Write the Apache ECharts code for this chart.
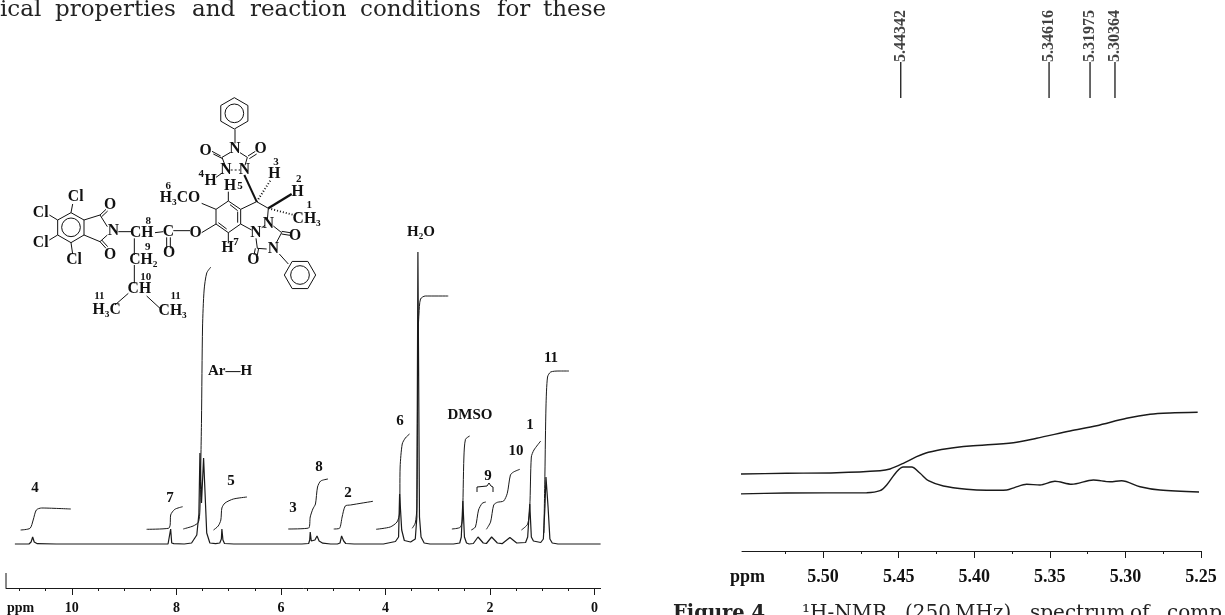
<!DOCTYPE html>
<html><head><meta charset="utf-8">
<style>html,body{margin:0;padding:0;background:#fff;overflow:hidden}#c{width:1225px;height:615px}</style>
<script src="https://cdn.jsdelivr.net/npm/echarts@6/dist/echarts.min.js"></script></head>
<body><div id="c"></div>
<script>
// ---------- left spectrum: ppm / intensity ----------
const leftSpectrum = [[11.09,0],[10.82,0],[10.78,2],[10.75,7],[10.72,2],[10.66,0.3],[10.3,0],[8.5,0],[8.16,0],[8.13,1],[8.11,15],[8.09,1],[8.05,0.4],[7.85,0],[7.71,1],[7.61,9],[7.57,30],[7.55,91],[7.52,41],[7.48,86],[7.42,11],[7.36,1],[7.25,0.4],[7.17,1],[7.14,5],[7.13,15],[7.11,4],[7.08,0.5],[6.9,0],[5.6,0],[5.47,0.5],[5.45,4],[5.44,12],[5.42,3],[5.39,1.5],[5.35,4],[5.31,8],[5.27,3],[5.2,0.8],[5.05,0],[4.92,0],[4.87,1],[4.84,8],[4.83,9],[4.80,3],[4.76,0.5],[4.6,0],[4.04,0],[3.81,2.5],[3.75,7],[3.73,50],[3.71,52],[3.69,14],[3.64,3.5],[3.52,2],[3.43,5],[3.40,27],[3.38,292],[3.35,27],[3.32,7],[3.26,1],[3.15,0],[2.7,0],[2.58,1],[2.55,7],[2.52,43],[2.49,7],[2.45,1],[2.40,0],[2.32,0.5],[2.23,7],[2.13,1],[2.07,0.5],[1.97,7],[1.86,1],[1.77,0.3],[1.62,6.5],[1.49,1],[1.32,1.5],[1.28,7],[1.24,40],[1.21,7],[1.17,3],[1.03,1.5],[0.98,5],[0.95,37],[0.93,67],[0.89,37],[0.855,5],[0.81,1],[0.7,0],[-0.115,0]];
const integral4 = [[10.98,14],[10.80,15.7],[10.74,24],[10.68,34],[10.58,36],[10.02,35]];
const integral7 = [[8.57,14.7],[8.15,15.7],[8.12,19],[8.11,29],[8.03,34.7],[7.88,37.3]];
const integralAr = [[7.87,15],[7.68,18],[7.58,21.7],[7.55,34],[7.53,91],[7.52,124],[7.50,217],[7.47,254],[7.42,271],[7.34,277]];
const integral5 = [[7.29,14],[7.20,18],[7.15,24],[7.13,36],[7.07,41],[6.91,45],[6.65,47]];
const integral38 = [[5.86,15],[5.47,16],[5.44,27],[5.39,35],[5.34,40],[5.30,57],[5.24,63],[5.10,65]];
const integral2 = [[4.99,15],[4.88,15.7],[4.83,27],[4.77,38],[4.67,39],[4.24,42.7]];
const integral6 = [[4.18,14.7],[3.91,17],[3.78,22],[3.73,31],[3.72,77],[3.68,100],[3.62,106],[3.54,110]];
const integralWater = [[3.49,15.7],[3.43,21],[3.40,37],[3.38,204],[3.36,230],[3.33,245],[3.24,248],[2.80,248]];
const integralDmso = [[2.73,15],[2.57,16.7],[2.53,24],[2.50,87],[2.47,104.7],[2.39,108]];
const integral9a = [[2.36,14],[2.28,17],[2.22,34],[2.15,40.7],[2.08,42]];
const integral9b = [[2.07,14.7],[1.99,22],[1.93,39],[1.86,41.7],[1.74,43],[1.67,50.7],[1.61,69],[1.55,72],[1.43,74.7]];
const integral1 = [[1.40,14],[1.28,20],[1.24,37],[1.21,87],[1.16,94],[1.03,103]];
const integral11 = [[0.97,11],[0.95,71],[0.93,137],[0.90,167],[0.84,172],[0.68,173],[0.49,173]];
const leftIntegrals = [integral4,integral7,integralAr,integral5,integral38,integral2,integral6,integralWater,integralDmso,integral9a,integral9b,integral1,integral11];
const leftMajor = [10.98,10,8,6,4,2,0];
const leftMajorLabels = ['ppm','10','8','6','4','2','0'];
const leftTickPos = [10,8,6,4,2,0];
const leftMinorPos = [11,10.5,9.5,9,8.5,7.5,7,6.5,5.5,5,4.5,3.5,3,2.5,1.5,1,0.5];

// ---------- right spectrum: ppm / intensity ----------
const rightIntegral = [[5.5578,77],[5.5240,77.7],[5.4910,78.3],[5.4623,80.3],[5.4557,82],[5.4469,87.7],[5.4381,94.3],[5.4303,98.7],[5.4182,102.3],[5.4028,105],[5.3741,108.3],[5.3587,112.7],[5.3366,120],[5.3190,125.3],[5.2992,132.7],[5.2837,136.7],[5.2705,138],[5.2522,138.7]];
const rightSpectrum = [[5.5578,57],[5.5240,58],[5.4711,58.3],[5.4623,60.3],[5.4579,66],[5.4513,79.3],[5.4469,84],[5.4414,84],[5.4358,77.7],[5.4303,70.3],[5.4204,65],[5.4050,61.7],[5.3918,60.7],[5.3785,61],[5.3730,63.7],[5.3653,66.7],[5.3565,66],[5.3466,69.7],[5.3355,66.7],[5.3212,71],[5.3102,69.3],[5.3025,70.3],[5.2903,64.3],[5.2771,61],[5.2513,59]];
const rightMajor = [5.55,5.50,5.45,5.40,5.35,5.30,5.25];
const rightMajorLabels = ['ppm','5.50','5.45','5.40','5.35','5.30','5.25'];
const rightTickPos = [5.50,5.45,5.40,5.35,5.30,5.25];
const rightMinorPos = [5.525,5.475,5.425,5.375,5.325,5.275];
const pickPos = [5.4486,5.3505,5.3234,5.3069];
const pickLabels = ['5.44342','5.34616','5.31975','5.30364'];
const pickStem = [453,489];

const paragraphWords = ['ical','properties','and','reaction','conditions','for','these'];
const captionWords = ['¹H-NMR','(250','MHz)','spectrum','of','comp'];

const SERIF = '"Liberation Serif", serif';
const BOOK = '"DejaVu Serif", serif';
const INK = '#1a1a1a';
const chart = echarts.init(document.getElementById('c'), null, {renderer:'canvas'});

function labelOf(vals, labels){ return v => { const i = vals.findIndex(x => Math.abs(x-v) < 1e-6); return i<0 ? '' : labels[i]; }; }
function xAxis(gridIndex,min,max,tickPos,labelPos,fmt){
  return {type:'value',gridIndex,min,max,inverse:true,position:'bottom',
    splitLine:{show:false},
    axisLine:{show:true,onZero:false,lineStyle:{color:INK,width:1}},
    axisTick:{show:true,length:7,customValues:tickPos,lineStyle:{color:INK,width:1}},
    axisLabel:{show:true,customValues:labelPos,formatter:fmt,color:'#111',fontFamily:SERIF,fontWeight:'bold',fontSize:gridIndex===0?14:18,margin:gridIndex===0?13:17,hideOverlap:false,showMinLabel:true,showMaxLabel:true}};
}
function minorAxis(gridIndex,min,max,tickPos){
  return {type:'value',gridIndex,min,max,inverse:true,position:'bottom',
    splitLine:{show:false},axisLine:{show:false,onZero:false},axisLabel:{show:false},
    axisTick:{show:true,length:3,customValues:tickPos,lineStyle:{color:INK,width:1}}};
}
function yAxis(gridIndex,min,max){return {type:'value',gridIndex,min,max,show:false};}
function curve(data,xi,yi,w,smooth){
  return {type:'line',data,xAxisIndex:xi,yAxisIndex:yi,showSymbol:false,symbol:'none',clip:false,animation:false,silent:true,smooth:smooth||false,
    lineStyle:{color:INK,width:w},z:3};
}

const stemData = [];
pickPos.forEach(p=>{stemData.push([p,pickStem[0]],[p,pickStem[1]],[null,null]);});

const series = [curve(leftSpectrum,0,0,1.2)];
leftIntegrals.forEach(d=>series.push(curve(d,0,0,1,0.25)));
series.push(curve(rightIntegral,2,1,1.4,0.3));
series.push(curve(rightSpectrum,2,1,1.4,0.3));
series.push(Object.assign(curve(stemData,2,1,1.3),{connectNulls:false}));
series.push({type:'scatter',xAxisIndex:2,yAxisIndex:1,symbolSize:0,silent:true,animation:false,
  data:pickPos.map((p,i)=>({value:[p,pickStem[1]],name:pickLabels[i]})),
  label:{show:true,position:[0,0],rotate:90,align:'left',verticalAlign:'middle',formatter:'{b}',fontFamily:SERIF,fontWeight:'bold',fontSize:16,color:'#111'}});

// ---------- free text and the structure drawing (not data) ----------
function txt(x,y,t,size,extra){return {type:'text',x,y,silent:true,style:Object.assign({text:t,fontFamily:SERIF,fontWeight:'bold',fontSize:size,fill:'#111',align:'center',verticalAlign:'middle'},extra||{})};}
function ln(p,w,dash){return {type:'polyline',silent:true,shape:{points:p},style:{stroke:'#111',lineWidth:w||3,fill:null,lineDash:dash||null}};}
function hex(cx,cy,r,rot){const a=[];for(let i=0;i<=6;i++){const t=(rot+i*60)*Math.PI/180;a.push([cx+r*Math.cos(t),cy+r*Math.sin(t)]);}return ln(a);}
function ring(cx,cy,r){return {type:'circle',silent:true,shape:{cx,cy,r},style:{stroke:'#111',lineWidth:3,fill:null}};}

const bonds = [
 [[705,148],[705,190]],[[690,218],[666,232],[676,258]],[[720,218],[742,232],[735,256]],
 [[662,228],[636,214]],[[668,236],[640,222]],[[744,228],[766,214]],[[748,236],[770,222]],
 [[648,292],[668,278]],[[685,335],[685,363]],
 [[685,363],[722,388],[722,432],[685,458],[648,432],[648,388],[685,363]],
 [[690,374],[713,392]],[[713,395],[713,428]],[[655,428],[680,447]],
 [[605,370],[648,388]],[[605,458],[648,432]],[[685,458],[685,490]],
 [[722,388],[770,365],[805,385],[802,420]],[[722,432],[755,450]],[[785,443],[795,436]],
 [[768,475],[772,505],[800,507]],[[766,505],[762,525]],[[776,505],[772,525]],
 [[820,438],[845,458],[828,490]],[[845,454],[870,458]],[[845,462],[870,466]],
 [[838,522],[865,552]],
 [[520,452],[570,452]],[[465,458],[490,455]],[[500,472],[500,505]],[[511,472],[511,505]],
 [[355,455],[395,455]],[[403,475],[403,525]],[[403,555],[403,610]],
 [[385,640],[345,675]],[[440,648],[480,685]],
 [[213,398],[252,420],[252,465],[213,488],[173,465],[173,420],[213,398]],
 [[252,420],[300,405],[322,440]],[[252,465],[300,485],[322,465]],
 [[300,405],[318,388]],[[305,410],[323,393]],[[300,485],[318,505]],[[305,480],[323,500]],
 [[213,398],[218,372]],[[173,420],[148,405]],[[173,465],[148,480]],[[213,488],[218,522]]
];
const molChildren = bonds.map(b=>ln(b));
molChildren.push(hex(703,100,47,30),ring(703,100,28),hex(900,585,47,0),ring(900,585,28),ring(213,442,28));
molChildren.push(ln([[733,285],[770,365]],6),ln([[805,385],[875,342]],7));
molChildren.push(ln([[770,365],[812,300]],6,[3,6]),ln([[805,385],[882,405]],6,[3,6]),ln([[692,270],[720,270]],3,[6,6]));
const atoms = [
 ['N',705,208],['O',617,212],['O',782,208],['N',678,270],['N',733,270],['H',632,303],['H',823,282],['H',893,335],
 ['CH₃',920,416],['H',690,318],['H₃CO',540,353],['O',587,458],['H',683,505],['N',768,458],['N',805,432],['N',820,507],['O',760,540],['O',885,467],
 ['C',505,455],['O',507,520],['CH',425,458],['N',340,452],['CH₂',430,540],['CH',418,628],['H₃C',320,690],['CH₃',518,692],
 ['O',330,375],['O',330,525],['Cl',227,352],['Cl',122,398],['Cl',122,490],['Cl',222,540]
];
atoms.forEach(a=>molChildren.push(txt(a[1],a[2],a[0],47)));
const numbers = [['4',604,282],['3',828,247],['2',896,298],['1',928,375],['5',720,318],['6',505,318],['7',708,485],['8',445,423],['9',443,500],['10',437,590],['11',298,648],['11',527,648]];
numbers.forEach(a=>molChildren.push(txt(a[1],a[2],a[0],33)));

const peakText = [['4',35,488,15],['7',170,498,15],['Ar—H',230,371,15],['5',231,481,15],['3',293,508,15],['8',319,467,15],['2',348,493,15],['6',400,421,15],['H₂O',421,232,15],['DMSO',470,415,15],['9',488,476,15],['10',516,451,15],['1',530,425,15],['11',551,358,15]];

const paragraphX = [0,55,192,250,360,497,543];
const captionX = [802,905,955,1030,1130,1167];
const graphic = [
 {type:'group',x:0,y:80,scaleX:1/3,scaleY:1/3,children:molChildren},
 ln([[6,573],[6,588]],1),
 {type:'polyline',silent:true,shape:{points:[[477,492],[477,487],[487,486],[489,483],[491,486],[493,487],[493,492]]},style:{stroke:'#111',lineWidth:1,fill:null}},
 txt(673,614,'Figure 4.',19.5,{fontFamily:BOOK,align:'left',fill:'#222'})
];
paragraphWords.forEach((w,i)=>graphic.push(txt(paragraphX[i],10,w,23,{fontFamily:BOOK,fontWeight:'normal',align:'left',fill:'#222'})));
captionWords.forEach((w,i)=>graphic.push(txt(captionX[i],614,w,20,{fontFamily:BOOK,fontWeight:'normal',align:'left',fill:'#222'})));
peakText.forEach(a=>graphic.push(txt(a[1],a[2],a[0],a[3])));

chart.setOption({
  animation:false,backgroundColor:'#fff',
  grid:[
    {left:6,width:594.6,top:200,height:388,containLabel:false},
    {left:742,width:459,top:0,height:551,containLabel:false}
  ],
  xAxis:[
    xAxis(0,-0.115,11.26,leftTickPos,leftMajor,labelOf(leftMajor,leftMajorLabels)),
    minorAxis(0,-0.115,11.26,leftMinorPos),
    xAxis(1,5.25,5.5536,rightTickPos,rightMajor,labelOf(rightMajor,rightMajorLabels)),
    minorAxis(1,5.25,5.5536,rightMinorPos)
  ],
  yAxis:[yAxis(0,-44,344),yAxis(1,0,551)],
  series,graphic
});
</script></body></html>
